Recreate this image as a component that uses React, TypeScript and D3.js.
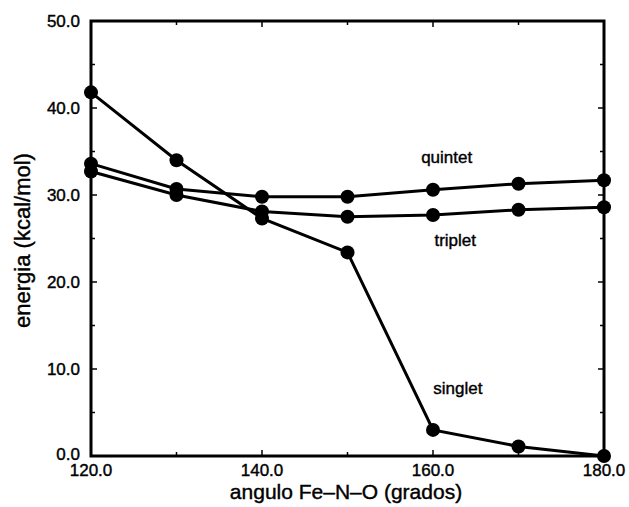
import React from "react";
import * as d3 from "d3";

const angles = [120, 130, 140, 150, 160, 170, 180];
const quintet = [33.6, 30.7, 29.8, 29.8, 30.6, 31.3, 31.7];
const triplet = [32.7, 30.0, 28.1, 27.5, 27.7, 28.3, 28.6];
const singlet = [41.8, 34.0, 27.3, 23.4, 3.0, 1.1, 0.0];
const xTickLabels = [120, 140, 160, 180];
const yTickLabels = [0, 10, 20, 30, 40, 50];
const seriesLabels = [
  { name: "quintet", angle: 161.6, value: 34.4 },
  { name: "triplet", angle: 162.6, value: 24.8 },
  { name: "singlet", angle: 162.9, value: 7.8 },
];

const App = () => {
  const width = 629;
  const height = 507;
  const margin = { top: 21, right: 25, bottom: 51, left: 91 };
  const font = "'Liberation Sans', Arial, sans-serif";

  const x = d3.scaleLinear().domain([120, 180]).range([margin.left, width - margin.right]);
  const y = d3.scaleLinear().domain([0, 50]).range([height - margin.bottom, margin.top]);

  const line = d3.line<number>().x((d, i) => x(angles[i])).y(d => y(d));
  const series = [quintet, triplet, singlet];

  const xMinor = d3.range(120, 181, 10);
  const yMinor = d3.range(0, 51, 5);
  const [x0, x1] = x.range();
  const [y0, y1] = y.range();

  // scanned print looks heavier than plain regular weight
  const heavy = { stroke: "black", strokeWidth: 0.4 };

  return (
    <svg width={width} height={height} style={{ position: "absolute", left: 0, top: 0 }}>
      <rect x={0} y={0} width={width} height={height} fill="white" />
      {/* ticks, inward on all four sides */}
      <g stroke="black" strokeWidth={1.5}>
        {xMinor.map(d => {
          const len = d % 20 === 0 ? 6 : 4;
          return (
            <g key={"x" + d}>
              <line x1={x(d)} x2={x(d)} y1={y0} y2={y0 - len} />
              <line x1={x(d)} x2={x(d)} y1={y1} y2={y1 + len} />
            </g>
          );
        })}
        {yMinor.map(d => {
          const len = d % 10 === 0 ? 6 : 4;
          return (
            <g key={"y" + d}>
              <line x1={x0} x2={x0 + len} y1={y(d)} y2={y(d)} />
              <line x1={x1} x2={x1 - len} y1={y(d)} y2={y(d)} />
            </g>
          );
        })}
      </g>
      <rect x={x0} y={y1} width={x1 - x0} height={y0 - y1} fill="none" stroke="black" strokeWidth={3} />

      {series.map((s, i) => (
        <g key={i}>
          <path d={line(s) || ""} fill="none" stroke="black" strokeWidth={3} />
          {s.map((v, j) => (
            <circle key={j} cx={x(angles[j])} cy={y(v)} r={7} fill="black" />
          ))}
        </g>
      ))}

      <g fontFamily={font} fontSize={17} fill="black" {...heavy}>
        {yTickLabels.map(d => (
          <text key={d} x={x0 - 11} y={y(d) + (d === 0 ? -2 : 0)} dy="0.35em" textAnchor="end">
            {d.toFixed(1)}
          </text>
        ))}
        {xTickLabels.map(d => (
          <text key={d} x={x(d)} y={y0 + 20} textAnchor="middle">
            {d.toFixed(1)}
          </text>
        ))}
      </g>

      <g fontFamily={font} fontSize={17} fill="black" textAnchor="middle" {...heavy}>
        {seriesLabels.map(l => (
          <text key={l.name} x={x(l.angle)} y={y(l.value)} dy="0.35em">
            {l.name}
          </text>
        ))}
      </g>

      <text x={346} y={height - 8} textAnchor="middle" fontFamily={font} fontSize={21} {...heavy}>
        angulo Fe–N–O (grados)
      </text>
      <text
        transform={`translate(30, ${(y0 + y1) / 2 + 2}) rotate(-90)`}
        textAnchor="middle"
        fontFamily={font}
        fontSize={22}
        {...heavy}
      >
        energia (kcal/mol)
      </text>
    </svg>
  );
};

export default App;
